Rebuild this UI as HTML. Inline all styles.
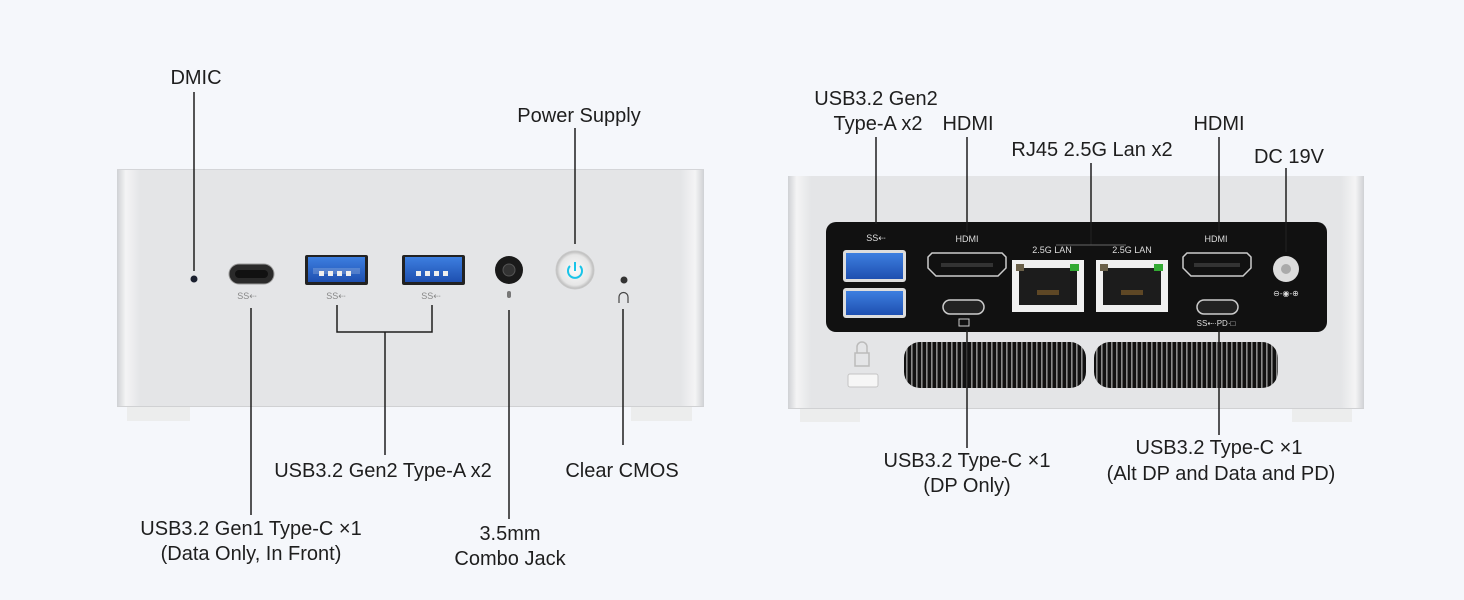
<!DOCTYPE html>
<html><head><meta charset="utf-8"><style>
html,body{margin:0;padding:0;background:#f5f7fb;}
svg{display:block;}
text{font-family:"Liberation Sans",sans-serif;font-size:20px;fill:#1e1e1e;text-anchor:middle;}
.s{font-size:9px;fill:#888;}
.w{font-size:9px;fill:#ddd;}
</style></head><body>
<svg width="1464" height="600" viewBox="0 0 1464 600" xmlns="http://www.w3.org/2000/svg">
<defs>
<linearGradient id="face" x1="0" x2="1" y1="0" y2="0">
<stop offset="0" stop-color="#cfd1d4"/><stop offset="0.015" stop-color="#f4f4f5"/><stop offset="0.04" stop-color="#e4e5e7"/><stop offset="0.96" stop-color="#e4e5e7"/><stop offset="0.985" stop-color="#f4f4f5"/><stop offset="1" stop-color="#cfd1d4"/>
</linearGradient>
<linearGradient id="blue" x1="0" x2="0" y1="0" y2="1"><stop offset="0" stop-color="#3d7fe0"/><stop offset="1" stop-color="#1e4fb0"/></linearGradient>
<radialGradient id="btn"><stop offset="0" stop-color="#fbfbfb"/><stop offset="0.8" stop-color="#e6e6e6"/><stop offset="1" stop-color="#b8b8b8"/></radialGradient>
<pattern id="vent" width="5" height="10" patternUnits="userSpaceOnUse"><rect width="5" height="10" fill="#111"/><rect x="1" width="1.6" height="10" fill="#8a8a8a"/></pattern>
</defs>

<!-- LEFT DEVICE -->
<rect x="127" y="400" width="63" height="21" fill="#eceded"/>
<rect x="631" y="400" width="61" height="21" fill="#eceded"/>
<rect x="117" y="169" width="587" height="238" fill="url(#face)"/>
<line x1="117" y1="169.5" x2="704" y2="169.5" stroke="#d4d5d8"/>
<line x1="117" y1="406.5" x2="704" y2="406.5" stroke="#d0d1d3"/>
<circle cx="194" cy="279" r="3.5" fill="#1a1f2e"/>
<!-- type C -->
<rect x="229" y="264" width="45" height="20" rx="10" fill="#2a2a2a" stroke="#999" stroke-width="1"/>
<rect x="235" y="270" width="33" height="8" rx="4" fill="#111"/>
<text class="s" x="247" y="299">SS⇠</text>
<!-- usb a -->
<rect x="305" y="255" width="63" height="30" rx="2" fill="#222"/>
<rect x="308" y="257" width="57" height="25" fill="url(#blue)"/>
<rect x="313" y="268" width="47" height="6" fill="#f0f0f0" opacity="0.2"/>
<g fill="#eee"><rect x="319" y="271" width="5" height="5"/><rect x="328" y="271" width="5" height="5"/><rect x="337" y="271" width="5" height="5"/><rect x="346" y="271" width="5" height="5"/></g>
<rect x="402" y="255" width="63" height="30" rx="2" fill="#222"/>
<rect x="405" y="257" width="57" height="25" fill="url(#blue)"/>
<g fill="#eee"><rect x="416" y="271" width="5" height="5"/><rect x="425" y="271" width="5" height="5"/><rect x="434" y="271" width="5" height="5"/><rect x="443" y="271" width="5" height="5"/></g>
<text class="s" x="336" y="299">SS⇠</text>
<text class="s" x="431" y="299">SS⇠</text>
<!-- jack -->
<circle cx="509" cy="270" r="14" fill="#1a1a1a"/>
<circle cx="509" cy="270" r="6" fill="#333" stroke="#555"/>
<rect x="507" y="291" width="4" height="7" rx="2" fill="#777"/>
<!-- power button -->
<circle cx="575" cy="270" r="19" fill="url(#btn)" stroke="#c8c8c8"/>
<path d="M570 266 A7 7 0 1 0 580 266" fill="none" stroke="#19c4e8" stroke-width="2"/>
<line x1="575" y1="262" x2="575" y2="271" stroke="#19c4e8" stroke-width="2"/>
<circle cx="624" cy="280" r="3.5" fill="#333"/>
<path d="M619 303 V297 A4.5 4.5 0 0 1 628 297 V303" fill="none" stroke="#444" stroke-width="1.2"/>

<g stroke="#1e1e1e" stroke-width="1.5" fill="none">
<line x1="194" y1="92" x2="194" y2="271"/>
<line x1="575" y1="128" x2="575" y2="244"/>
<line x1="251" y1="308" x2="251" y2="515"/>
<path d="M337 305 V332 H432 V305"/>
<line x1="385" y1="332" x2="385" y2="455"/>
<line x1="509" y1="310" x2="509" y2="519"/>
<line x1="623" y1="309" x2="623" y2="445"/>
</g>
<text x="196" y="84">DMIC</text>
<text x="579" y="122">Power Supply</text>
<text x="383" y="477">USB3.2 Gen2 Type-A x2</text>
<text x="622" y="477">Clear CMOS</text>
<text x="251" y="535">USB3.2 Gen1 Type-C ×1</text>
<text x="251" y="560">(Data Only, In Front)</text>
<text x="510" y="540">3.5mm</text>
<text x="510" y="565">Combo Jack</text>

<!-- RIGHT DEVICE -->
<rect x="800" y="402" width="60" height="20" fill="#eceded"/>
<rect x="1292" y="402" width="60" height="20" fill="#eceded"/>
<rect x="788" y="176" width="576" height="233" fill="url(#face)"/>
<line x1="788" y1="408.5" x2="1364" y2="408.5" stroke="#d0d1d3"/>
<rect x="826" y="222" width="501" height="110" rx="10" fill="#111"/>
<text class="w" x="876" y="241">SS⇠</text>
<rect x="843" y="250" width="63" height="32" rx="3" fill="#ddd"/>
<rect x="846" y="253" width="57" height="26" fill="url(#blue)"/>
<rect x="843" y="288" width="63" height="30" rx="3" fill="#ddd"/>
<rect x="846" y="291" width="57" height="24" fill="url(#blue)"/>
<text class="w" x="967" y="242">HDMI</text>
<path d="M932 253 H1002 L1006 257 V268 L998 276 H936 L928 268 V257 Z" fill="#111" stroke="#ccc" stroke-width="1.5"/>
<rect x="941" y="263" width="52" height="4" fill="#333"/>
<rect x="943" y="300" width="41" height="14" rx="7" fill="#222" stroke="#ccc" stroke-width="1.5"/>
<rect x="959" y="319" width="10" height="7" fill="none" stroke="#ccc" stroke-width="1"/>
<text class="w" x="1052" y="253">2.5G LAN</text>
<text class="w" x="1132" y="253">2.5G LAN</text>
<rect x="1012" y="260" width="72" height="52" fill="#f0f0f0"/>
<rect x="1019" y="268" width="58" height="37" fill="#1c1c1c"/>
<rect x="1016" y="264" width="8" height="7" fill="#6a6049"/>
<rect x="1070" y="264" width="9" height="7" fill="#33aa33"/>
<rect x="1037" y="290" width="22" height="5" fill="#7a5a2a" opacity="0.7"/>
<rect x="1096" y="260" width="72" height="52" fill="#f0f0f0"/>
<rect x="1103" y="268" width="58" height="37" fill="#1c1c1c"/>
<rect x="1100" y="264" width="8" height="7" fill="#6a6049"/>
<rect x="1154" y="264" width="9" height="7" fill="#33aa33"/>
<rect x="1121" y="290" width="22" height="5" fill="#7a5a2a" opacity="0.7"/>
<text class="w" x="1216" y="242">HDMI</text>
<path d="M1187 253 H1247 L1251 257 V268 L1243 276 H1191 L1183 268 V257 Z" fill="#111" stroke="#ccc" stroke-width="1.5"/>
<rect x="1194" y="263" width="46" height="4" fill="#333"/>
<rect x="1197" y="300" width="41" height="14" rx="7" fill="#222" stroke="#ccc" stroke-width="1.5"/>
<text class="w" x="1216" y="326" style="font-size:8px">SS⇠·PD·□</text>
<circle cx="1286" cy="269" r="13" fill="#ddd"/>
<circle cx="1286" cy="269" r="5" fill="#aaa"/>
<text class="w" x="1286" y="296" style="font-size:8px">⊖-◉-⊕</text>
<!-- vents -->
<rect x="904" y="342" width="182" height="46" rx="16" fill="url(#vent)"/>
<rect x="1094" y="342" width="184" height="46" rx="16" fill="url(#vent)"/>
<!-- lock -->
<path d="M857 353 V347 A5 5 0 0 1 867 347 V353" fill="none" stroke="#bbb" stroke-width="1.5"/>
<rect x="855" y="353" width="14" height="13" fill="none" stroke="#bbb" stroke-width="1.5"/>
<rect x="848" y="374" width="30" height="13" rx="2" fill="#f6f6f6" stroke="#c4c4c4"/>

<g stroke="#1e1e1e" stroke-width="1.5" fill="none">
<line x1="876" y1="137" x2="876" y2="224"/>
<line x1="967" y1="137" x2="967" y2="232"/>
<path d="M1091 163 V245"/>
<line x1="1219" y1="137" x2="1219" y2="232"/>
<line x1="1286" y1="168" x2="1286" y2="252"/>
<line x1="967" y1="330" x2="967" y2="448"/>
<line x1="1219" y1="330" x2="1219" y2="435"/>
</g>
<line x1="1056" y1="245" x2="1126" y2="245" stroke="#666" stroke-width="1"/>
<text x="876" y="105">USB3.2 Gen2</text>
<text x="878" y="130">Type-A x2</text>
<text x="968" y="130">HDMI</text>
<text x="1092" y="156">RJ45 2.5G Lan x2</text>
<text x="1219" y="130">HDMI</text>
<text x="1289" y="163">DC 19V</text>
<text x="967" y="467">USB3.2 Type-C ×1</text>
<text x="967" y="492">(DP Only)</text>
<text x="1219" y="454">USB3.2 Type-C ×1</text>
<text x="1221" y="480">(Alt DP and Data and PD)</text>
</svg>
</body></html>
